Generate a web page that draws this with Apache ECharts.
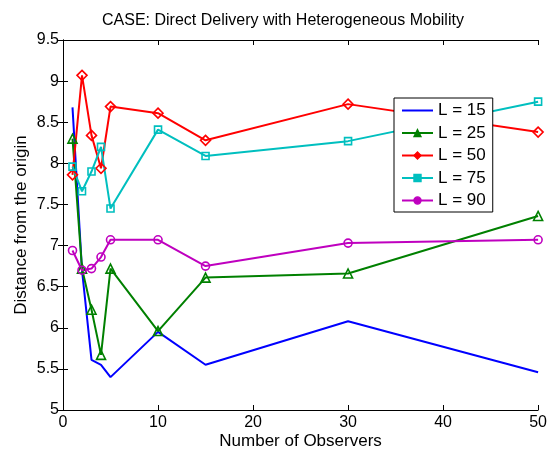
<!DOCTYPE html>
<html>
<head>
<meta charset="utf-8">
<script src="https://cdn.jsdelivr.net/npm/echarts@6/dist/echarts.min.js"></script>
<style>html,body{margin:0;padding:0;background:#fff;}#c{width:550px;height:455px;}</style>
</head>
<body>
<div id="c"></div>
<script>
const observers = [1, 2, 3, 4, 5, 10, 15, 30, 50];
const L15 = [8.68, 6.70, 5.61, 5.55, 5.40, 5.95, 5.55, 6.08, 5.46];
const L25 = [8.30, 6.72, 6.22, 5.67, 6.72, 5.96, 6.61, 6.66, 7.36];
const L50 = [7.86, 9.07, 8.34, 7.94, 8.69, 8.61, 8.28, 8.72, 8.38];
const L75 = [7.96, 7.66, 7.90, 8.20, 7.45, 8.41, 8.09, 8.27, 8.75];
const L90 = [6.94, 6.70, 6.72, 6.86, 7.07, 7.07, 6.75, 7.03, 7.07];
const seriesNames = ['L = 15', 'L = 25', 'L = 50', 'L = 75', 'L = 90'];
const seriesData = [L15, L25, L50, L75, L90];
const colors = ['#0000ff', '#008000', '#ff0000', '#00bfbf', '#bf00bf'];
const symbols = ['none', 'triangle', 'diamond', 'rect', 'circle'];
const symbolSizes = [0, 9, 10, 7, 8];

const font = 'Liberation Sans, Arial, Helvetica, sans-serif';
const chart = echarts.init(document.getElementById('c'), null, {renderer: 'canvas'});

const series = seriesNames.map((name, i) => ({
  name: name,
  type: 'line',
  data: observers.map((x, j) => [x, seriesData[i][j]]),
  symbol: symbols[i],
  showSymbol: symbols[i] !== 'none',
  symbolSize: symbolSizes[i],
  lineStyle: {color: colors[i], width: 2},
  itemStyle: {color: 'rgba(255,255,255,0)', borderColor: colors[i], borderWidth: 1.6},
  color: colors[i],
  animation: false,
  emphasis: {disabled: true},
  z: 2
}));

const axisLine = {show: true, lineStyle: {color: '#000', width: 1}};
chart.setOption({
  backgroundColor: '#fff',
  animation: false,
  title: {
    text: 'CASE: Direct Delivery with Heterogeneous Mobility',
    left: 97, top: 8,
    textStyle: {fontFamily: font, fontSize: 16, fontWeight: 'normal', color: '#000'}
  },
  legend: {
    orient: 'vertical',
    left: 394, top: 98,
    padding: [4, 7, 3, 7],
    itemWidth: 31, itemHeight: 9, itemGap: 5.5,
    backgroundColor: '#fff',
    borderColor: '#000', borderWidth: 1,
    textStyle: {fontFamily: font, fontSize: 17, lineHeight: 17, color: '#000'},
    data: seriesNames.map((n, i) => ({
      name: n,
      itemStyle: i === 0
        ? {color: 'rgba(0,0,0,0)', borderColor: 'rgba(0,0,0,0)', borderWidth: 0}
        : {color: colors[i], borderColor: colors[i], borderWidth: 1.2}
    }))
  },
  grid: {left: 63, top: 40, right: 11, bottom: 40, containLabel: false},
  xAxis: [{
    type: 'value', min: 0, max: 50, interval: 10, position: 'bottom',
    name: 'Number of Observers', nameLocation: 'middle', nameGap: 23, nameMoveOverlap: false,
    nameTextStyle: {fontFamily: font, fontSize: 17, color: '#000'},
    axisLine: axisLine,
    axisTick: {show: true, inside: true, length: 5, lineStyle: {color: '#000'}},
    axisLabel: {fontFamily: font, fontSize: 16, color: '#000', margin: 5},
    splitLine: {show: false}
  }, {
    type: 'value', min: 0, max: 50, interval: 10, position: 'top',
    axisLine: axisLine,
    axisTick: {show: true, inside: true, length: 5, lineStyle: {color: '#000'}},
    axisLabel: {show: false}, splitLine: {show: false}
  }],
  yAxis: [{
    type: 'value', min: 5, max: 9.5, interval: 0.5, position: 'left',
    name: 'Distance from the origin', nameLocation: 'middle', nameGap: 33, nameMoveOverlap: false,
    nameTextStyle: {fontFamily: font, fontSize: 17, color: '#000'},
    axisLine: axisLine,
    axisTick: {show: true, inside: true, length: 5, lineStyle: {color: '#000'}},
    axisLabel: {fontFamily: font, fontSize: 16, color: '#000', margin: 4},
    splitLine: {show: false}
  }, {
    type: 'value', min: 5, max: 9.5, interval: 0.5, position: 'right',
    axisLine: axisLine,
    axisTick: {show: true, inside: true, length: 5, lineStyle: {color: '#000'}},
    axisLabel: {show: false}, splitLine: {show: false}
  }],
  series: series
});
</script>
</body>
</html>
